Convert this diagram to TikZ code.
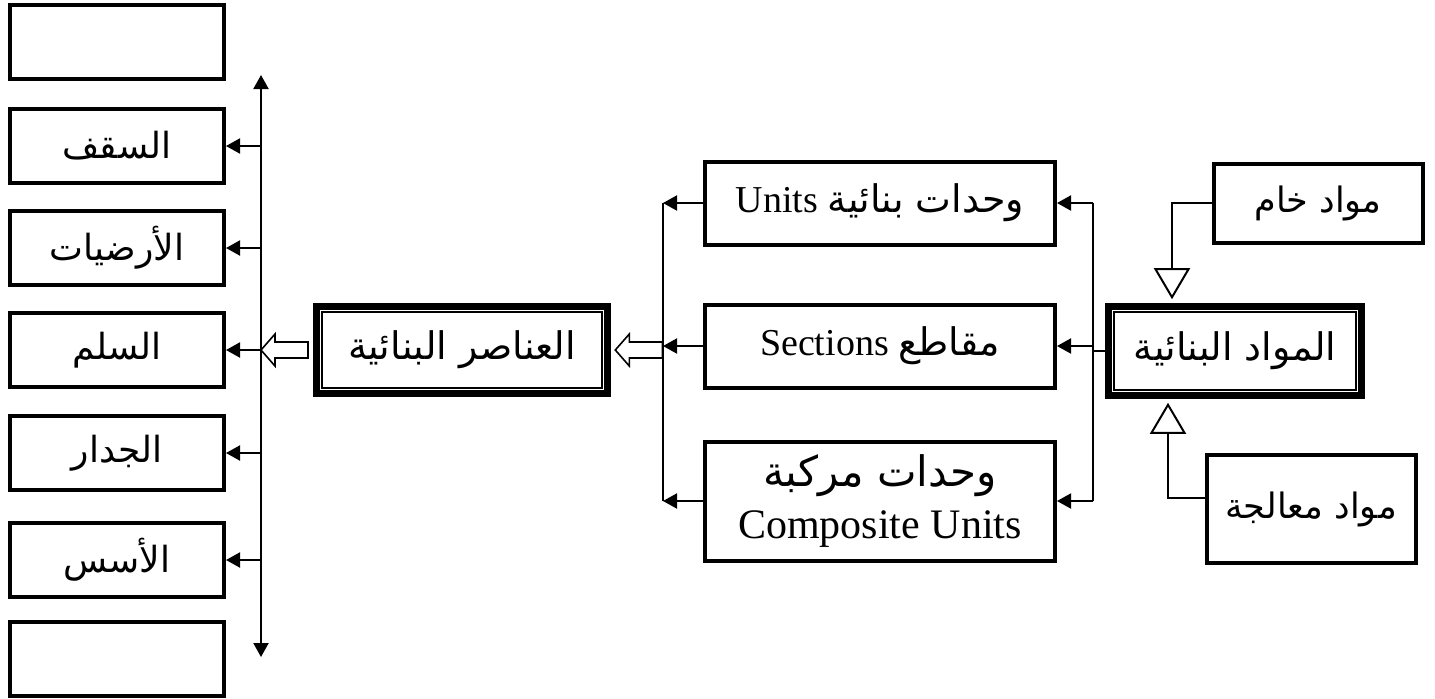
\documentclass[tikz,border=0pt]{standalone}
\usepackage{fontspec}
\setmainfont{Liberation Serif}
\newfontfamily\arabicfont[Script=Arabic]{DejaVu Sans}
\TeXXeTstate=1
\usetikzlibrary{arrows.meta, positioning, calc}

\newcommand{\ar}[1]{{\arabicfont\beginR #1\endR}}

\begin{document}
\begin{tikzpicture}[
    x=0.5pt, y=-0.5pt,
    item/.style={draw, line width=2pt, minimum width=107pt, minimum height=37pt, font=\fontsize{18}{20}\selectfont},
    unit/.style={draw, line width=2pt, minimum width=175pt, minimum height=41.5pt, align=center, font=\fontsize{19}{26}\selectfont},
    main/.style={draw, line width=3.6pt, font=\fontsize{19}{24}\selectfont},
    src/.style={draw, line width=2pt, minimum width=104.5pt, font=\fontsize{17.5}{20}\selectfont},
    link/.style={line width=1pt, -{Triangle[length=7pt,width=7.5pt]}},
    hollow/.style={draw, line width=0.8pt, fill=white},
    inlet/.style={line width=1pt, -{Triangle[open, length=15.5pt, width=18pt]}}
]
    \useasboundingbox (0,0) rectangle (1435,698);

    % building elements (left column)
    \node[item] (blanktop) at (117,42) {};
    \node[item] (roof) at (117,146) {\ar{السقف}};
    \node[item] (floors) at (117,248) {\ar{الأرضيات}};
    \node[item] (stair) at (117,350) {\ar{السلم}};
    \node[item] (wall) at (117,453) {\ar{الجدار}};
    \node[item] (found) at (117,560) {\ar{الأسس}};
    \node[item] (blankbot) at (117,659) {};

    % spine
    \coordinate (spinetop) at (261,75);
    \coordinate (spinebot) at (261,657);
    \draw[line width=1pt, {Triangle[length=7pt,width=7.5pt]}-{Triangle[length=7pt,width=7.5pt]}] (spinetop) -- (spinebot);
    \draw[link] (spinetop |- roof.east) -- (roof.east);
    \draw[link] (spinetop |- floors.east) -- (floors.east);
    \draw[link] (spinetop |- stair.east) -- (stair.east);
    \draw[link] (spinetop |- wall.east) -- (wall.east);
    \draw[link] (spinetop |- found.east) -- (found.east);

    % building elements
    \node[main, minimum width=145.7pt, minimum height=43.7pt] (elem) at (462,350) {\ar{العناصر البنائية}};
    \draw[line width=1pt] ($(elem.north west)+(4.5pt,-4.5pt)$) rectangle ($(elem.south east)+(-4.5pt,4.5pt)$);
    \draw[hollow] (spinetop |- elem.west) -- ++(14,-16) -- ++(0,8) -- ++(33,0) -- ++(0,16) -- ++(-33,0) -- ++(0,8) -- cycle;
    \draw[hollow] ([xshift=2pt]elem.east) -- ++(14,-16) -- ++(0,8) -- ++(33,0) -- ++(0,16) -- ++(-33,0) -- ++(0,8) -- cycle;

    % units, sections, composite units
    \node[unit] (units) at (880,203) {Units \ar{وحدات بنائية}};
    \node[unit] (sect) at (880,346) {Sections \ar{مقاطع}};
    \node[unit, minimum height=59.5pt, font=\fontsize{21}{26}\selectfont] (comp) at (880,501) {\ar{وحدات مركبة}\\Composite Units};

    \coordinate (lbus) at (663,0);
    \coordinate (rbus) at (1093,0);
    \draw[line width=0.8pt] (lbus |- units.west) -- (lbus |- comp.west);
    \draw[link] (units.west) -- (lbus |- units.west);
    \draw[link] (sect.west) -- (lbus |- sect.west);
    \draw[link] (comp.west) -- (lbus |- comp.west);

    \draw[line width=0.8pt] (rbus |- units.east) -- (rbus |- comp.east);
    \draw[link] (rbus |- units.east) -- (units.east);
    \draw[link] (rbus |- sect.east) -- (sect.east);
    \draw[link] (rbus |- comp.east) -- (comp.east);

    % building materials
    \node[main, minimum width=126.2pt, minimum height=44.2pt] (mat) at (1235,351) {\ar{المواد البنائية}};
    \draw[line width=1pt] ($(mat.north west)+(4.5pt,-4.5pt)$) rectangle ($(mat.south east)+(-4.5pt,4.5pt)$);
    \draw[line width=0.8pt] (mat.west) -- (rbus |- mat.west);

    % raw and treated
    \node[src, minimum height=39.5pt] (raw) at (1318,203) {\ar{مواد خام}};
    \node[src, minimum height=54pt] (treat) at (1311,509) {\ar{مواد معالجة}};
    \draw[inlet] (raw.west) -| ([shift={(-63,-4)}]mat.north);
    \draw[inlet] ([shift={(0,-11)}]treat.west) -| ([shift={(-67,4)}]mat.south);
\end{tikzpicture}
\end{document}
